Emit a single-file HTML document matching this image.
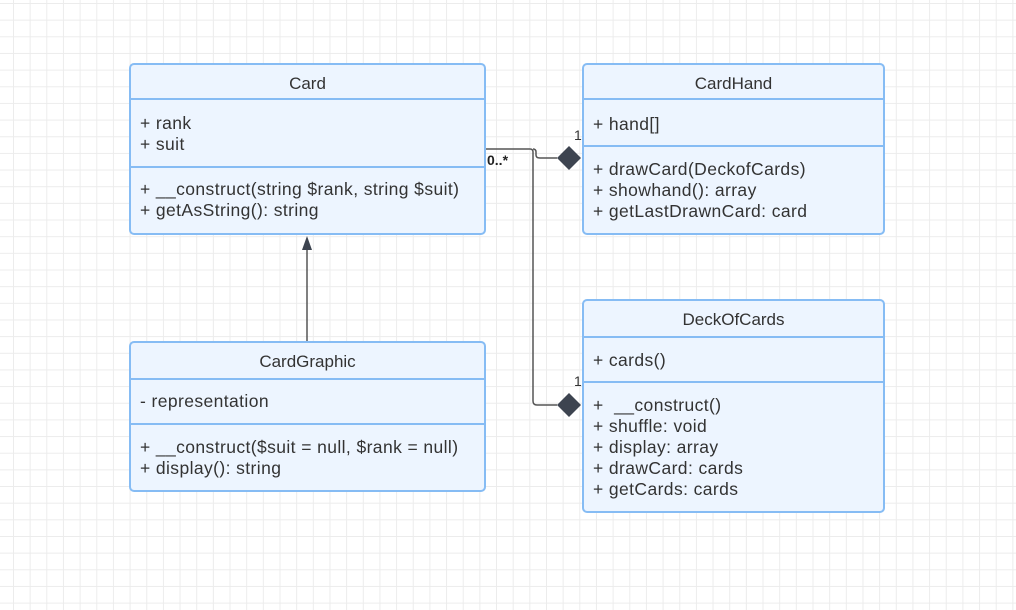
<!DOCTYPE html>
<html><head><style>
body{margin:0;width:1016px;height:610px;overflow:hidden;background:#fff;
background-image:linear-gradient(#ececec 1px,transparent 1px),linear-gradient(90deg,#ececec 1px,transparent 1px);
background-size:16.67px 16.67px;background-position:13px 3px;font-family:"Liberation Sans",sans-serif;color:#333;}
.b{position:absolute;background:#edf5ff;border:2px solid #86bcf4;border-radius:5px;box-sizing:border-box;}
.h{position:absolute;left:0;right:0;text-align:center;font-size:17px;}
.d{position:absolute;left:0;right:0;border-top:2px solid #86bcf4;}
.t{position:absolute;left:9px;font-size:17.5px;letter-spacing:0.4px;line-height:21px;white-space:pre;}
svg{position:absolute;left:0;top:0;}
</style></head><body>
<div class="b" style="left:129px;top:63px;width:357px;height:172px">
<div class="h" style="top:9px">Card</div><div class="d" style="top:33px"></div>
<div class="t" style="top:48px">+ rank
+ suit</div><div class="d" style="top:101px"></div>
<div class="t" style="top:114px">+ __construct(string $rank, string $suit)
+ getAsString(): string</div></div>

<div class="b" style="left:582px;top:63px;width:303px;height:172px">
<div class="h" style="top:9px">CardHand</div><div class="d" style="top:33px"></div>
<div class="t" style="top:49px">+ hand[]</div><div class="d" style="top:80px"></div>
<div class="t" style="top:94px">+ drawCard(DeckofCards)
+ showhand(): array
+ getLastDrawnCard: card</div></div>

<div class="b" style="left:582px;top:299px;width:303px;height:214px">
<div class="h" style="top:9px">DeckOfCards</div><div class="d" style="top:35px"></div>
<div class="t" style="top:49px">+ cards()</div><div class="d" style="top:80px"></div>
<div class="t" style="top:94px">+  __construct()
+ shuffle: void
+ display: array
+ drawCard: cards
+ getCards: cards</div></div>

<div class="b" style="left:129px;top:341px;width:357px;height:151px">
<div class="h" style="top:9px">CardGraphic</div><div class="d" style="top:35px"></div>
<div class="t" style="top:48px">- representation</div><div class="d" style="top:80px"></div>
<div class="t" style="top:94px">+ __construct($suit = null, $rank = null)
+ display(): string</div></div>

<svg width="1016" height="610">
<g fill="none" stroke="#555" stroke-width="1.5">
<path d="M486 149 H530 Q533 149 533 152 V401 Q533 405 537 405 H557"/>
<path d="M533 149 Q536 149 536 152 V155 Q536 158 540 158 H557"/>
<path d="M307 341 V248"/>
</g>
<polygon points="557,158 569,146 581,158 569,170" fill="#3d4450"/>
<polygon points="557,405 569,393 581,405 569,417" fill="#3d4450"/>
<polygon points="307,236 302,250 312,250" fill="#3d4450"/>
<text x="487" y="165" font-size="14" font-weight="bold" fill="#222" font-family="Liberation Sans">0..*</text>
<text x="574" y="140" font-size="14" fill="#333" font-family="Liberation Sans">1</text>
<text x="574" y="386" font-size="14" fill="#333" font-family="Liberation Sans">1</text>
</svg>
</body></html>
